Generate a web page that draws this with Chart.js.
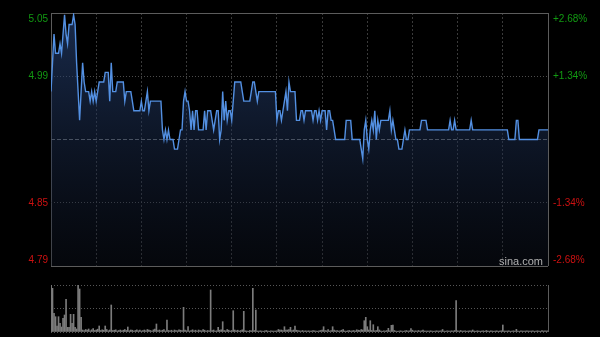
<!DOCTYPE html>
<html>
<head>
<meta charset="utf-8">
<script src="https://cdn.jsdelivr.net/npm/chart.js@4.4.0/dist/chart.umd.min.js"></script>
<style>
  html, body { margin: 0; padding: 0; background: #000; }
  #wrap { position: relative; width: 600px; height: 337px; overflow: hidden; background: #000; }
  #price { position: absolute; left: 0; top: 0; }
  #vol { position: absolute; left: 0; top: 278px; }
  #mark { position: absolute; left: 499px; top: 255px; font: 11px Arial, "Liberation Sans", sans-serif; line-height: 12px; color: #b0b0b0; }
</style>
</head>
<body>
<div id="wrap">
  <canvas id="price" width="600" height="278"></canvas>
  <canvas id="vol" width="600" height="59"></canvas>
  <div id="mark">sina.com</div>
</div>
<script>
// --- Data (one value per trading minute) ---
const prevClose = 4.92;
const prices = [
  4.97,5.00,5.03,5.01,5.01,5.01,5.02,5.01,5.03,5.05,
  5.03,5.02,5.04,5.04,5.04,5.05,5.04,5.00,4.97,4.94,
  4.97,5.00,4.98,4.97,4.97,4.97,4.96,4.97,4.96,4.97,
  4.96,4.97,4.98,4.98,4.98,4.98,4.99,4.99,4.99,4.96,
  5.00,4.97,4.97,4.97,4.98,4.98,4.98,4.98,4.98,4.96,
  4.97,4.97,4.97,4.97,4.96,4.95,4.95,4.95,4.95,4.95,
  4.96,4.95,4.95,4.96,4.97,4.95,4.96,4.96,4.96,4.96,
  4.96,4.96,4.96,4.96,4.93,4.92,4.93,4.92,4.93,4.92,
  4.92,4.92,4.91,4.91,4.91,4.92,4.93,4.93,4.96,4.97,
  4.96,4.96,4.95,4.93,4.95,4.93,4.95,4.95,4.93,4.93,
  4.93,4.93,4.95,4.93,4.95,4.95,4.95,4.94,4.93,4.94,
  4.95,4.95,4.92,4.93,4.97,4.94,4.96,4.94,4.95,4.95,
  4.94,4.96,4.98,4.98,4.98,4.98,4.98,4.97,4.96,4.96,
  4.96,4.96,4.96,4.97,4.98,4.98,4.97,4.96,4.97,4.97,
  4.97,4.97,4.97,4.97,4.97,4.97,4.97,4.97,4.97,4.97,
  4.94,4.95,4.95,4.94,4.95,4.96,4.97,4.95,4.98,4.97,
  4.97,4.97,4.97,4.94,4.94,4.94,4.95,4.95,4.94,4.95,
  4.95,4.95,4.95,4.95,4.94,4.95,4.95,4.94,4.95,4.94,
  4.95,4.95,4.95,4.93,4.95,4.95,4.94,4.94,4.93,4.92,
  4.92,4.92,4.92,4.92,4.92,4.92,4.94,4.94,4.94,4.94,
  4.92,4.92,4.92,4.92,4.92,4.92,4.91,4.90,4.93,4.94,
  4.92,4.91,4.93,4.94,4.93,4.95,4.92,4.94,4.93,4.94,
  4.94,4.94,4.94,4.94,4.94,4.95,4.93,4.94,4.93,4.92,
  4.92,4.91,4.91,4.91,4.92,4.93,4.92,4.92,4.93,4.93,
  4.93,4.93,4.93,4.93,4.93,4.93,4.94,4.94,4.94,4.94,
  4.93,4.93,4.93,4.93,4.93,4.93,4.93,4.93,4.93,4.93,
  4.93,4.93,4.93,4.93,4.93,4.94,4.93,4.93,4.94,4.93,
  4.93,4.93,4.93,4.93,4.93,4.93,4.93,4.93,4.93,4.94,
  4.93,4.93,4.93,4.93,4.93,4.93,4.93,4.93,4.93,4.93,
  4.93,4.93,4.93,4.93,4.93,4.93,4.93,4.93,4.93,4.93,
  4.93,4.93,4.93,4.93,4.92,4.92,4.92,4.92,4.92,4.94,
  4.94,4.92,4.92,4.92,4.92,4.92,4.92,4.92,4.92,4.92,
  4.92,4.92,4.92,4.92,4.93,4.93,4.93,4.93,4.93,4.93,
  4.93
];
const volumes = [
  470,437,187,153,60,153,87,50,137,170,
  327,47,47,177,87,177,47,30,470,430,
  147,20,15,25,18,30,12,22,35,15,
  20,28,60,15,22,18,60,25,12,20,
  270,15,18,22,10,15,20,12,18,25,
  15,50,12,20,18,10,15,22,12,18,
  10,15,20,12,25,18,15,10,22,30,
  80,15,20,12,18,25,10,120,15,12,
  18,10,20,15,12,22,18,15,247,20,
  12,53,10,15,22,12,18,10,20,15,
  12,25,18,10,15,12,420,15,20,10,
  12,47,18,22,103,15,12,25,18,10,
  15,213,20,12,18,10,15,22,207,12,
  10,8,15,12,437,15,220,10,8,12,
  10,8,12,15,10,8,12,10,8,10,
  12,25,18,20,15,53,18,20,25,47,
  15,20,60,18,15,12,10,15,8,12,
  10,12,8,10,15,12,10,8,12,15,
  20,53,15,12,25,10,15,53,20,12,
  15,10,12,18,25,10,8,12,15,10,
  12,15,10,22,18,15,25,20,113,147,
  53,20,113,15,73,12,15,53,20,10,
  8,12,10,15,37,12,67,70,15,10,
  8,10,12,10,8,12,15,10,12,33,
  18,10,12,8,15,10,12,18,10,8,
  10,8,12,10,8,10,12,8,10,12,
  25,10,8,12,10,8,12,10,15,313,
  12,10,15,8,10,12,8,10,12,10,
  20,10,8,12,10,8,10,12,8,15,
  10,8,12,10,8,10,12,8,10,12,
  70,10,8,10,12,8,10,12,10,27,
  10,8,12,10,8,10,12,10,8,10,
  12,8,10,12,10,8,15,10,12,10,
  12
];
const priceTicks = [4.788, 4.854, 4.92, 4.986, 5.052];
const priceTickLabels = ['4.79', '4.85', '', '4.99', '5.05'];
const pctTickLabels = ['-2.68%', '-1.34%', '', '+1.34%', '+2.68%'];
const gridMinutes = [0, 30, 60, 90, 120, 150, 180, 210, 240, 270, 300, 330];
const volTicks = [0, 235, 470];

const FONT = { family: 'Arial, "Liberation Sans", sans-serif', size: 10 };
const UP = '#129a12', DOWN = '#cc1111';
const lastMin = gridMinutes[gridMinutes.length - 1];

// first/last price labels sit inside the box, pushed by an empty line
function edgeLabel(list) {
  return (v, i) => {
    const t = list[i];
    if (i === 0) return [t, ''];
    if (i === list.length - 1) return ['', t];
    return t;
  };
}
function fixWidth(w) {
  return s => { s.width = w; s.paddingTop = 0; s.paddingBottom = 0; };
}
const tickColor = c => (c.tick.value > prevClose ? UP : DOWN);
const isEdgeX = c => c.tick && (c.tick.value === 0 || c.tick.value === lastMin);

// --- Price chart ---
new Chart(document.getElementById('price'), {
  type: 'line',
  data: {
    datasets: [{
      data: prices.map((p, i) => ({ x: i, y: p })),
      borderColor: '#5390e2',
      borderWidth: 1.4,
      pointRadius: 0,
      tension: 0,
      fill: 'start',
      backgroundColor: c => {
        const a = c.chart.chartArea;
        if (!a) return 'rgba(0,0,0,0)';
        const g = c.chart.ctx.createLinearGradient(0, a.top, 0, a.bottom);
        g.addColorStop(0, 'rgba(42,72,128,0.6)');
        g.addColorStop(1, 'rgba(14,20,34,0.35)');
        return g;
      }
    }]
  },
  options: {
    responsive: false,
    animation: false,
    layout: { padding: { top: 13, bottom: 12, left: 0, right: 0 } },
    plugins: { legend: { display: false }, tooltip: { enabled: false } },
    scales: {
      x: {
        type: 'linear', min: 0, max: lastMin,
        afterBuildTicks: s => { s.ticks = gridMinutes.map(v => ({ value: v })); },
        afterFit: s => { s.height = 0; s.paddingLeft = 0; s.paddingRight = 0; },
        ticks: { display: false },
        grid: {
          drawTicks: false,
          color: c => (isEdgeX(c) ? '#5c5c5c' : '#3a3a3a')
        },
        border: { display: false, dash: c => (!c.tick || isEdgeX(c) ? [] : [2, 2]) }
      },
      y: {
        position: 'left', min: priceTicks[0], max: priceTicks[4],
        afterBuildTicks: s => { s.ticks = priceTicks.map(v => ({ value: v })); },
        afterFit: fixWidth(51),
        ticks: { callback: edgeLabel(priceTickLabels), color: tickColor, font: FONT, padding: 3 },
        grid: {
          drawTicks: false,
          color: c => {
            const i = c.index;
            if (i === 0 || i === 4) return '#5c5c5c';
            if (i === 2) return '#707070';
            return '#4c4c4c';
          }
        },
        border: {
          display: false,
          dash: c => {
            if (!c.tick) return [];
            const i = c.index;
            if (i === 0 || i === 4) return [];
            if (i === 2) return [4, 2];
            return [1, 2];
          }
        }
      },
      yR: {
        position: 'right', min: priceTicks[0], max: priceTicks[4],
        afterBuildTicks: s => { s.ticks = priceTicks.map(v => ({ value: v })); },
        afterFit: fixWidth(52),
        ticks: { callback: edgeLabel(pctTickLabels), color: tickColor, font: FONT, padding: 5 },
        grid: { display: false, drawTicks: false },
        border: { display: false }
      }
    }
  }
});

// --- Volume chart ---
new Chart(document.getElementById('vol'), {
  type: 'bar',
  data: {
    datasets: [{
      data: volumes.map((v, i) => ({ x: i, y: v })),
      backgroundColor: '#7c7c7c',
      borderWidth: 0,
      barThickness: 1
    }]
  },
  options: {
    responsive: false,
    animation: false,
    layout: { padding: { top: 7, bottom: 5, left: 0, right: 52 } },
    plugins: { legend: { display: false }, tooltip: { enabled: false } },
    scales: {
      x: {
        type: 'linear', min: 0, max: lastMin, offset: false,
        afterBuildTicks: s => { s.ticks = [{ value: 0 }, { value: lastMin }]; },
        afterFit: s => { s.height = 0; s.paddingLeft = 0; s.paddingRight = 0; },
        ticks: { display: false },
        grid: { drawTicks: false, color: '#5c5c5c', offset: false },
        border: { display: false }
      },
      y: {
        position: 'left', min: volTicks[0], max: volTicks[2],
        afterBuildTicks: s => { s.ticks = volTicks.map(v => ({ value: v })); },
        afterFit: fixWidth(51),
        ticks: { display: false },
        grid: { drawTicks: false, color: '#565656' },
        border: { display: false, dash: c => (c.tick ? [1, 2] : []) }
      }
    }
  }
});
</script>
</body>
</html>
